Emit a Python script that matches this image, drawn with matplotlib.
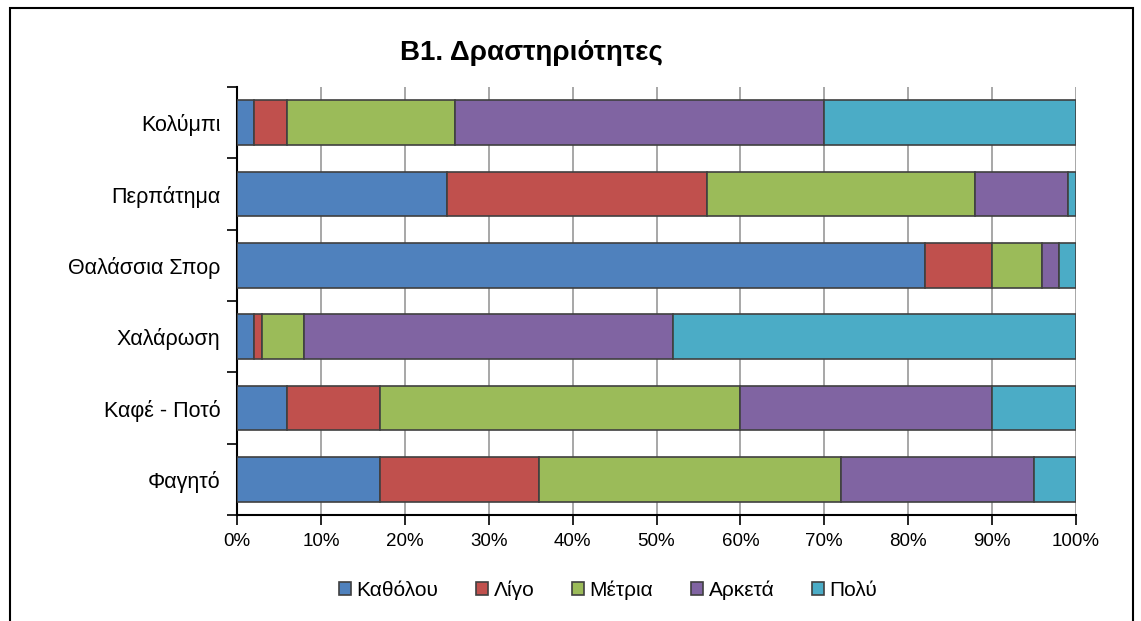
import matplotlib.pyplot as plt
import matplotlib.patches as mpatches
import numpy as np

plt.rcParams['font.family'] = ['Liberation Sans', 'DejaVu Sans']

# data (percent of answers)
categories = ['Κολύμπι', 'Περπάτημα', 'Θαλάσσια Σπορ', 'Χαλάρωση', 'Καφέ - Ποτό', 'Φαγητό']
levels = ['Καθόλου', 'Λίγο', 'Μέτρια', 'Αρκετά', 'Πολύ']
katholou = [2, 25, 82, 2, 6, 17]
ligo = [4, 31, 8, 1, 11, 19]
metria = [20, 32, 6, 5, 43, 36]
arketa = [44, 11, 2, 44, 30, 23]
poly = [30, 1, 2, 48, 10, 5]
xticks = [0, 10, 20, 30, 40, 50, 60, 70, 80, 90, 100]

colors = ['#4F81BD', '#C0504D', '#9BBB59', '#8064A2', '#4BACC6']
series = [katholou, ligo, metria, arketa, poly]

fig = plt.figure(figsize=(11.41, 6.21), dpi=100)
ax = fig.add_axes([237/1141, 1-515/621, (1076-237)/1141, (515-87)/621])

# outer frame
fig.patches.append(mpatches.Rectangle((10/1141, -0.05), (1133-10)/1141, 1.05-8/621,
                                      transform=fig.transFigure, fill=False,
                                      edgecolor='black', linewidth=1.5))

y = np.arange(len(categories))
left = np.zeros(len(categories))
for vals, c in zip(series, colors):
    ax.barh(y, vals, left=left, height=0.63, color=c, edgecolor='#404040',
            linewidth=1.2, zorder=3)
    left += np.array(vals)

ax.set_xlim(0, 100)
ax.set_ylim(len(categories)-0.5, -0.5)
ax.set_xticks(xticks)
ax.set_xticklabels([f'{v}%' for v in xticks], fontsize=13.5)
ax.grid(axis='x', color='#A0A0A0', linewidth=1.3, zorder=0)

ax.set_yticks(np.arange(-0.5, len(categories), 1))
ax.set_yticklabels([])
ax.set_yticks(y, minor=True)
ax.set_yticklabels(categories, minor=True, fontsize=15.5)
ax.tick_params(axis='y', which='minor', length=0, pad=12)
ax.tick_params(axis='y', which='major', length=7, width=1.2, direction='out')
ax.tick_params(axis='x', length=7, width=1.2, direction='out', pad=6)

for s in ['top', 'right']:
    ax.spines[s].set_visible(False)
for s in ['left', 'bottom']:
    ax.spines[s].set_linewidth(1.5)

fig.text(531/1141, 1-53/621, 'B1. Δραστηριότητες', ha='center', va='center',
         fontsize=20, fontweight='bold')

handles = [mpatches.Patch(facecolor=c, edgecolor='#404040', linewidth=1.2, label=l)
           for c, l in zip(colors, levels)]
fig.legend(handles=handles, loc='center', bbox_to_anchor=(608/1141, 1-590/621),
           ncol=5, frameon=False, fontsize=15, handlelength=0.6, handleheight=0.6,
           handletextpad=0.25, columnspacing=1.8)

fig.savefig('out.png', dpi=100)
